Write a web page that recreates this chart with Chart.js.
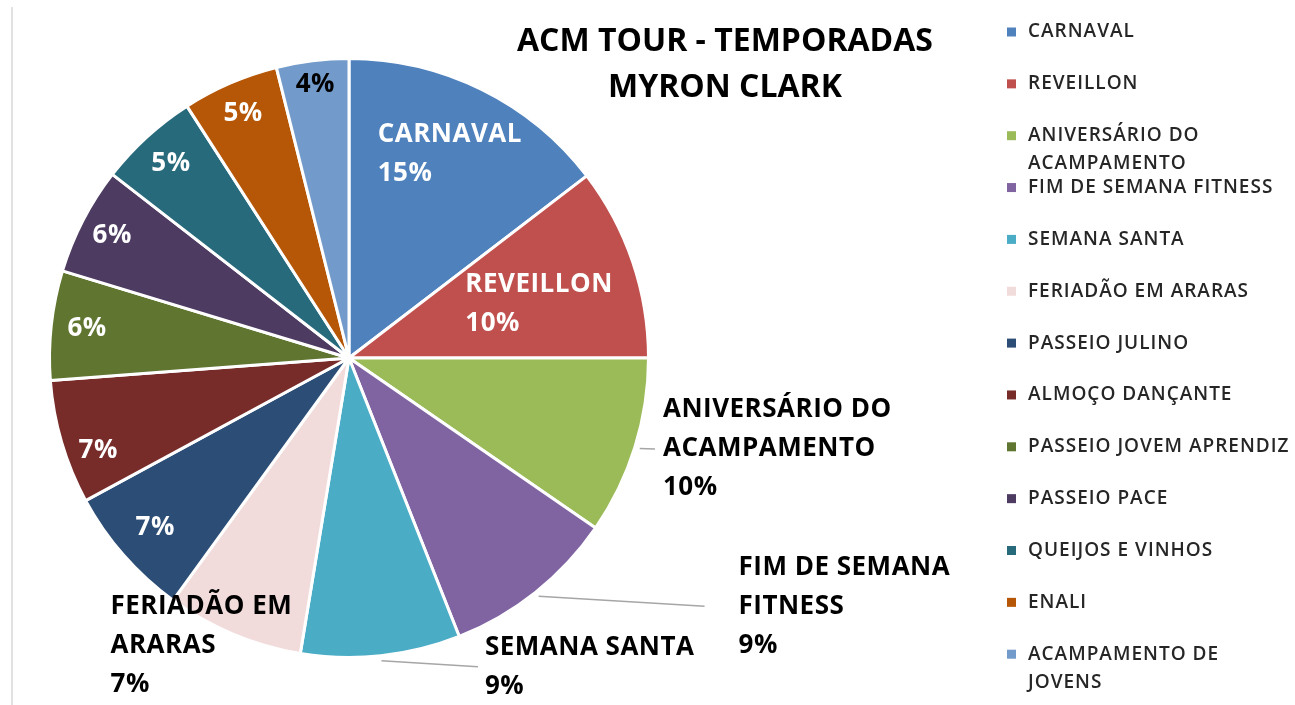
<!DOCTYPE html>
<html>
<head>
<meta charset="utf-8">
<script src="https://cdn.jsdelivr.net/npm/chart.js@4"></script>
<style>
	html, body { margin: 0; padding: 0; background: #fff; }
	canvas { display: block; }
</style>
</head>
<body>
<canvas id="myChart" width="1295" height="705"></canvas>
<script>
/* ---------------------------- DADOS DO GRAFICO ---------------------------- */

const categorias = [
	"CARNAVAL", "REVEILLON", "ANIVERSÁRIO DO ACAMPAMENTO", "FIM DE SEMANA FITNESS",
	"SEMANA SANTA", "FERIADÃO EM ARARAS", "PASSEIO JULINO", "ALMOÇO DANÇANTE",
	"PASSEIO JOVEM APRENDIZ", "PASSEIO PACE", "QUEIJOS E VINHOS", "ENALI",
	"ACAMPAMENTO DE JOVENS",
];
// participação de cada temporada (%)
const valores = [14.6, 10.4, 9.6, 9.4, 8.6, 7.4, 7.1, 6.7, 5.9, 5.8, 5.4, 5.2, 3.9];
const cores = [
	"#4F81BD", "#C0504D", "#9BBB59", "#8064A2", "#4BACC6", "#F2DCDB", "#2C4D75",
	"#772C2A", "#5F7530", "#4D3B62", "#276A7C", "#B65708", "#729ACA",
];
const titulo = ["ACM TOUR - TEMPORADAS", "MYRON CLARK"];

// linhas de texto da legenda (quebradas como no original)
const legenda_linhas = [
	["CARNAVAL"], ["REVEILLON"], ["ANIVERSÁRIO DO", "ACAMPAMENTO"], ["FIM DE SEMANA FITNESS"],
	["SEMANA SANTA"], ["FERIADÃO EM ARARAS"], ["PASSEIO JULINO"], ["ALMOÇO DANÇANTE"],
	["PASSEIO JOVEM APRENDIZ"], ["PASSEIO PACE"], ["QUEIJOS E VINHOS"], ["ENALI"],
	["ACAMPAMENTO DE", "JOVENS"],
];
// nome mostrado no rotulo de dados (vazio = só percentual)
const rotulo_linhas = [
	["CARNAVAL"], ["REVEILLON"], ["ANIVERSÁRIO DO", "ACAMPAMENTO"], ["FIM DE SEMANA", "FITNESS"],
	["SEMANA SANTA"], ["FERIADÃO EM", "ARARAS"], [], [], [], [], [], [], [],
];

// onde cada rotulo fica: dentro (fração do raio) ou fora (deslocamento da borda)
const posicao_rotulo = [
	{ modo: "in", r: 0.76, cor: "#fff" },
	{ modo: "in", r: 0.67, dy: 10, cor: "#fff" },
	{ modo: "out", dx: 28, dy: 2, guia: 8, cor: "#000" },
	{ modo: "out", dx: 203, dy: 14, guia: 34, cor: "#000" },
	{ modo: "out", dx: 104, dy: 11, guia: 7, cor: "#000" },
	{ modo: "out", dx: -123, dy: 11, cor: "#000" },
	{ modo: "in", r: 0.86, cor: "#fff" },
	{ modo: "in", r: 0.89, dx: 5, dy: 17, cor: "#fff" },
	{ modo: "in", r: 0.88, cor: "#fff" },
	{ modo: "in", r: 0.89, cor: "#fff" },
	{ modo: "in", r: 0.88, cor: "#fff" },
	{ modo: "in", r: 0.89, cor: "#fff" },
	{ modo: "in", r: 0.92, cor: "#000" },
];

/* ------------------------------- PLUGINS ------------------------------- */

const fundo = {
	id: "fundo",
	beforeDraw(chart) {
		const ctx = chart.ctx;
		ctx.save();
		ctx.fillStyle = "#fff";
		ctx.fillRect(0, 0, chart.width, chart.height);
		// borda esquerda da área do gráfico
		ctx.strokeStyle = "#d9d9d9";
		ctx.lineWidth = 1.5;
		ctx.beginPath();
		ctx.moveTo(12, 7);
		ctx.lineTo(12, chart.height);
		ctx.stroke();
		ctx.restore();
	},
};

const rotulos = {
	id: "rotulos",
	afterDatasetsDraw(chart) {
		const ctx = chart.ctx;
		const meta = chart.getDatasetMeta(0);
		const total = valores.reduce((a, b) => a + b, 0);
		const passo = 39;
		meta.data.forEach((arc, i) => {
			const p = arc.getProps(["x", "y", "startAngle", "endAngle", "outerRadius"], true);
			const meio = (p.startAngle + p.endAngle) / 2;
			const cos = Math.cos(meio), sin = Math.sin(meio);
			const linhas = rotulo_linhas[i].concat([Math.round((valores[i] / total) * 100) + "%"]);
			const cfg = posicao_rotulo[i];
			ctx.save();
			ctx.font = 'bold 26px "Open Sans"';
			ctx.letterSpacing = "0.5px";
			ctx.textBaseline = "middle";
			ctx.textAlign = "left";
			const larg = Math.max(...linhas.map((t) => ctx.measureText(t).width));
			const alt = (linhas.length - 1) * passo;
			let esq, cy;
			if (cfg.modo === "in") {
				const cx = p.x + cos * p.outerRadius * cfg.r + (cfg.dx || 0);
				cy = p.y + sin * p.outerRadius * cfg.r + (cfg.dy || 0);
				esq = cx - larg / 2;
			} else {
				const ex = p.x + cos * p.outerRadius;
				const ey = p.y + sin * p.outerRadius;
				esq = ex + cfg.dx;
				cy = ey + cfg.dy;
				if (cfg.guia) {
					ctx.strokeStyle = "#a6a6a6";
					ctx.lineWidth = 1.5;
					ctx.beginPath();
					ctx.moveTo(p.x + cos * (p.outerRadius + 5), p.y + sin * (p.outerRadius + 5));
					ctx.lineTo(esq - cfg.guia, cy);
					ctx.stroke();
				}
			}
			ctx.fillStyle = cfg.cor;
			linhas.forEach((t, k) => ctx.fillText(t, esq, cy - alt / 2 + k * passo));
			ctx.restore();
		});
	},
	afterDraw(chart) {
		const ctx = chart.ctx;
		ctx.save();
		// titulo
		ctx.fillStyle = "#000";
		ctx.font = 'bold 32px "Open Sans"';
		ctx.textAlign = "center";
		ctx.textBaseline = "middle";
		titulo.forEach((t, k) => ctx.fillText(t, 725, 42 + k * 46));
		// legenda
		ctx.textAlign = "left";
		ctx.font = '600 19px "Open Sans"';
		ctx.letterSpacing = "1px";
		legenda_linhas.forEach((linhas, i) => {
			const y = 32 + i * 51.85;
			ctx.fillStyle = cores[i];
			ctx.fillRect(1007, y - 4.5, 9, 9);
			ctx.fillStyle = "#262626";
			linhas.forEach((t, k) => ctx.fillText(t, 1028, y + k * 28));
		});
		ctx.restore();
	},
};

/* ------------------------------- GRAFICO ------------------------------- */

const ctx = document.getElementById("myChart").getContext("2d");
let myChart = new Chart(ctx, {
	type: "pie",
	data: {
		labels: categorias,
		datasets: [
			{
				data: valores,
				backgroundColor: cores,
				borderColor: "#fff",
				borderWidth: 3,
			},
		],
	},
	options: {
		responsive: false,
		animation: false,
		devicePixelRatio: 1,
		layout: {
			padding: { left: 48, right: 645, top: 57, bottom: 46 },
		},
		plugins: {
			legend: { display: false },
			tooltip: { enabled: false },
		},
	},
	plugins: [fundo, rotulos],
});
</script>
</body>
</html>
